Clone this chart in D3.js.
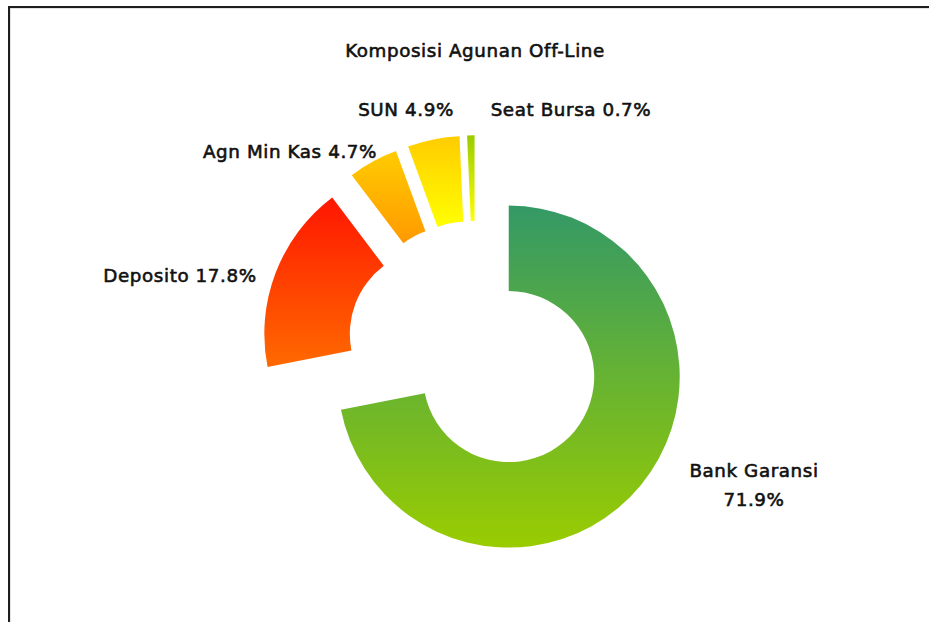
<!DOCTYPE html>
<html>
<head>
<meta charset="utf-8">
<script src="https://cdn.jsdelivr.net/npm/d3@7"></script>
<style>
html,body{margin:0;padding:0;background:#fff;}
svg{display:block;}
text{font-family:"DejaVu Sans",Verdana,sans-serif;fill:#111;stroke:#111;stroke-width:0.6px;letter-spacing:0.6px;}
</style>
</head>
<body>
<svg id="chart" width="929" height="622"></svg>
<script>
// ---- data ----
const categories = ["Bank Garansi", "Deposito", "Agn Min Kas", "SUN", "Seat Bursa"];
const values = [71.9, 17.8, 4.7, 4.9, 0.7];
const title = "Komposisi Agunan Off-Line";
const gradTop = ["#339966", "#ff1600", "#ffcc00", "#ffcc00", "#99cc00"];
const gradBottom = ["#99cc00", "#ff6a00", "#ff9900", "#ffff00", "#ffff00"];
// label lines (text) and their anchor points (layout)
const labelLines = [["Bank Garansi", "71.9%"], ["Deposito 17.8%"], ["Agn Min Kas 4.7%"], ["SUN 4.9%"], ["Seat Bursa 0.7%"]];
const labelAnchor = [[754, 477], [180, 282], [290, 158], [406, 116], [571, 116]];

// ---- layout ----
const W = 929, H = 622;
const cx = 475.5, cy = 349.3, outerR = 171, innerR = 85.5, explode = 43;

const svg = d3.select("#chart");

// frame
svg.append("rect").attr("x", 10).attr("y", 8).attr("width", 1000).attr("height", 1000)
  .attr("fill", "none").attr("stroke", "#c8c8c8").attr("stroke-width", 1);
svg.append("rect").attr("x", 9).attr("y", 7).attr("width", 1000).attr("height", 1000)
  .attr("fill", "none").attr("stroke", "#1e1e1e").attr("stroke-width", 2);

// gradients
const defs = svg.append("defs");
categories.forEach((c, i) => {
  const g = defs.append("linearGradient").attr("id", "g" + i)
    .attr("x1", 0).attr("y1", 0).attr("x2", 0).attr("y2", 1);
  g.append("stop").attr("offset", "0%").attr("stop-color", gradTop[i]);
  g.append("stop").attr("offset", "100%").attr("stop-color", gradBottom[i]);
});

const pie = d3.pie().sort(null).value(d => d).startAngle(0).endAngle(2 * Math.PI);
const arcs = pie(values);
const arc = d3.arc().innerRadius(innerR).outerRadius(outerR);

const slices = svg.append("g").attr("transform", `translate(${cx},${cy})`)
  .selectAll("g").data(arcs).join("g")
  .attr("transform", d => {
    const m = (d.startAngle + d.endAngle) / 2;
    return `translate(${explode * Math.sin(m)},${-explode * Math.cos(m)})`;
  });
slices.append("path").attr("d", arc).attr("fill", (d, i) => `url(#g${i})`);

// title
svg.append("text").attr("x", 475).attr("y", 57).attr("text-anchor", "middle")
  .style("font-size", "18.3px").text(title);

// labels
labelLines.forEach((lines, i) => {
  const t = svg.append("text").attr("x", labelAnchor[i][0]).attr("y", labelAnchor[i][1])
    .attr("text-anchor", "middle").style("font-size", "18.3px");
  lines.forEach((ln, j) => {
    t.append("tspan").attr("x", labelAnchor[i][0]).attr("dy", j === 0 ? 0 : 29).text(ln);
  });
});
</script>
</body>
</html>
